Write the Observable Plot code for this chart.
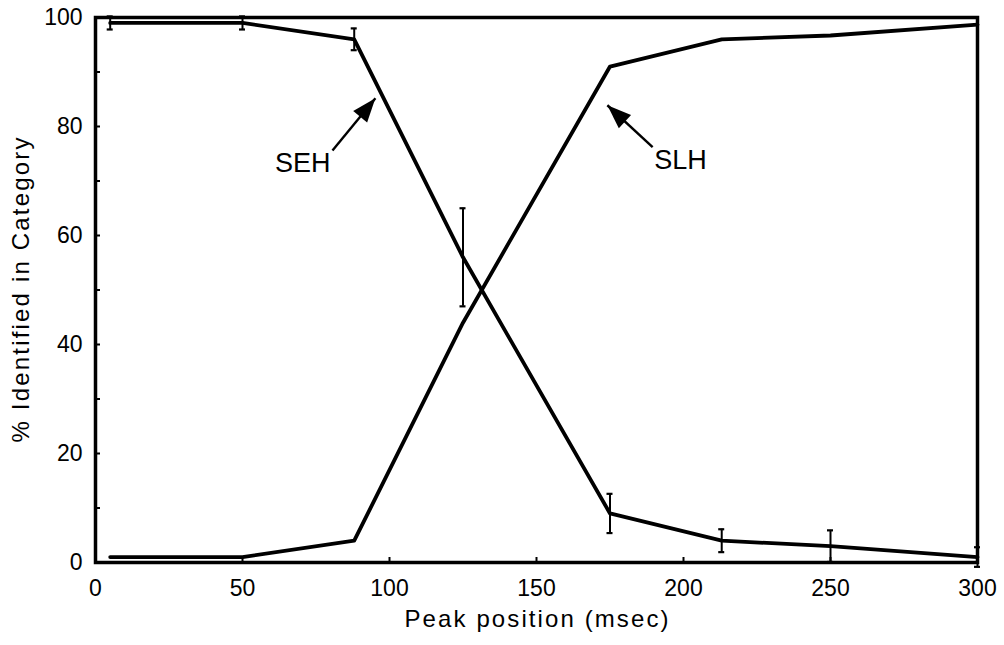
<!DOCTYPE html>
<html><head><meta charset="utf-8">
<script src="https://cdn.jsdelivr.net/npm/d3@7"></script>
<script src="https://cdn.jsdelivr.net/npm/@observablehq/plot@0.6"></script>
<style>
body{margin:0;background:#fff;}
</style></head><body><div id="chart"></div>
<script>
// Data
const positions = [5, 50, 88, 125, 175, 213, 250, 300];
const sehValues = [99, 99, 96, 56, 9, 4, 3, 1];
const slhValues = [1, 1, 4, 44, 91, 96, 96.7, 98.7];
const sehErrors = [1.2, 1.2, 2, 9, 3.6, 2.1, 2.9, 1.8];

const xTicks = [0, 50, 100, 150, 200, 250, 300];
const yTicks = [0, 20, 40, 60, 80, 100];
const yMinorTicks = [0, 10, 20, 30, 40, 50, 60, 70, 80, 90, 100];

const labelNames = ["SEH", "SLH"];
const labelX = [70.5, 199];
const labelY = [73.3, 73.8];
const arrowTailX = [80.6, 189.5];
const arrowTailY = [75.6, 76.2];
const arrowTipX = [95.2, 174.1];
const arrowTipY = [85.2, 83.9];

const xTitle = "Peak position (msec)";
const yTitle = "% Identified in Category";

const W = 1004, H = 645, mL = 95, mR = 27, mT = 17, mB = 83;

const table = positions.map((x, i) => ({x, seh: sehValues[i], slh: slhValues[i], err: sehErrors[i]}));
const pxX = (W - mL - mR) / 300, pxY = (H - mT - mB) / 100;
const arrows = labelNames.map((name, i) => {
  const dx = (arrowTipX[i] - arrowTailX[i]) * pxX;
  const dy = -(arrowTipY[i] - arrowTailY[i]) * pxY;
  return {name, lx: labelX[i], ly: labelY[i], x1: arrowTailX[i], y1: arrowTailY[i], x2: arrowTipX[i], y2: arrowTipY[i],
          angle: Math.atan2(dx, -dy) * 180 / Math.PI};
});
const headSymbol = {draw(context) { const L = 24, w = 9; context.moveTo(0, 0); context.lineTo(w, L); context.lineTo(-w, L); context.closePath(); }};

const chart = Plot.plot({
  width: W, height: H,
  marginLeft: mL, marginRight: mR, marginTop: mT, marginBottom: mB,
  style: {fontFamily: "'Liberation Sans', Arial, sans-serif", background: "#fff", color: "#000"},
  x: {domain: [0, 300]},
  y: {domain: [0, 100]},
  marks: [
    Plot.axisX(xTicks, {tickSize: 0, tickPadding: 17, fontSize: 23, label: null}),
    Plot.axisX(xTicks, {tickSize: 5, dy: -5, strokeWidth: 2, tickFormat: () => "", label: null}),
    Plot.axisY(yTicks, {tickSize: 0, tickPadding: 13, fontSize: 23, label: null}),
    Plot.axisY(yMinorTicks, {tickSize: 5, dx: 5, strokeWidth: 2, tickFormat: () => "", label: null}),
    Plot.frame({strokeWidth: 3.5}),
    Plot.ruleX(table, {x: "x", y1: d => d.seh - d.err, y2: d => d.seh + d.err, strokeWidth: 2}),
    Plot.ruleY(table, {y: d => d.seh - d.err, x1: "x", x2: "x", insetLeft: -3, insetRight: -3, strokeWidth: 2.2}),
    Plot.ruleY(table, {y: d => d.seh + d.err, x1: "x", x2: "x", insetLeft: -3, insetRight: -3, strokeWidth: 2.2}),
    Plot.line(table, {x: "x", y: "seh", stroke: "#000", strokeWidth: 3.8}),
    Plot.line(table, {x: "x", y: "slh", stroke: "#000", strokeWidth: 3.8}),
    Plot.link(arrows, {x1: "x1", y1: "y1", x2: "x2", y2: "y2", stroke: "#000", strokeWidth: 2.4}),
    Plot.dot(arrows, {x: "x2", y: "y2", symbol: headSymbol, rotate: "angle", fill: "#000", stroke: "none"}),
    Plot.text(arrows, {x: "lx", y: "ly", text: "name", fontSize: 27, fill: "#000"}),
    Plot.text([xTitle], {frameAnchor: "bottom", dy: 64, text: d => d, fontSize: 24, fill: "#000"}),
    Plot.text([yTitle], {frameAnchor: "left", textAnchor: "middle", dx: -74, rotate: -90, text: d => d, fontSize: 24, fill: "#000"})
  ]
});
document.getElementById("chart").appendChild(chart);
// stretch the two axis titles to the reference's wider letter spacing
d3.select(chart).selectAll("text").each(function() {
  const t = this.textContent;
  if (t === xTitle) d3.select(this).attr("textLength", 264).attr("lengthAdjust", "spacing");
  if (t === yTitle) d3.select(this).attr("textLength", 305).attr("lengthAdjust", "spacing");
});
</script>
</body></html>
